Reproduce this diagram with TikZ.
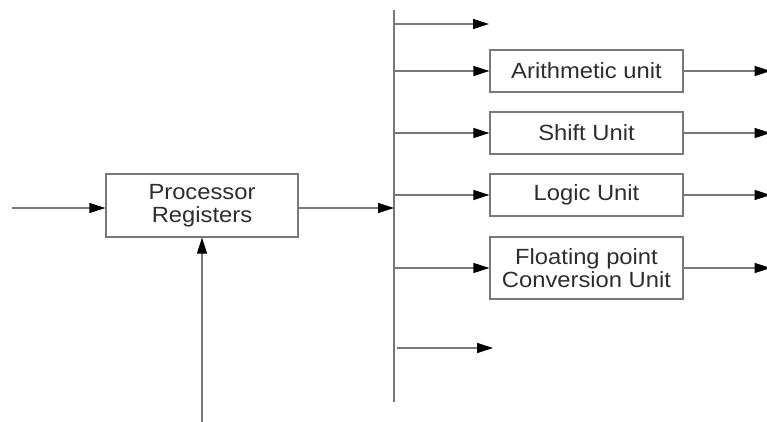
\documentclass[tikz,border=0pt]{standalone}
\usepackage{fontspec}
\setmainfont{Liberation Sans}
\newfontfamily\unitfont[FakeStretch=1.08]{Liberation Sans}
\usetikzlibrary{arrows.meta}
\definecolor{linegray}{RGB}{120,120,120}
\definecolor{textgray}{RGB}{45,45,45}
\tikzset{
	unit/.style={draw=linegray, line width=1.2pt, minimum width=193pt, minimum height=42pt, inner sep=0pt, align=center, text=textgray, font=\unitfont\fontsize{22}{23.5}\selectfont},
	bus/.style={draw=linegray, line width=1.2pt},
	flow/.style={draw=linegray, line width=1.2pt, -{Triangle[length=16pt,width=10pt,color=black]}}
}
\begin{document}
\begin{tikzpicture}[x=1pt,y=-1pt]
		\useasboundingbox (0,0) rectangle (767,422);
		\node[unit, minimum width=192pt, minimum height=63pt] (reg) at (202,205.5) {Processor\\Registers};
		\node[unit] (arith) at (586.5,71) {Arithmetic unit};
		\node[unit] (shift) at (586.5,133) {Shift Unit};
		\node[unit] (logic) at (586.5,195) {Logic Unit};
		\node[unit, minimum height=62pt] (float) at (586.5,268) {Floating point\\Conversion Unit};
		\coordinate (in) at (12,208);
		\coordinate (ctrl) at (202,422);
		\coordinate (bustop) at (394,10);
		\coordinate (busbot) at (394,402);
		\coordinate (spare1) at (489,24);
		\coordinate (spare2a) at (397,348);
		\coordinate (spare2) at (493,348);
		\draw[bus] (bustop) -- (busbot);
		\draw[flow] (in) -- (in -| reg.west);
		\draw[flow] (ctrl) -- (reg.south);
		\draw[flow] (in -| reg.east) -- (in -| bustop);
		\draw[flow] (bustop |- spare1) -- (spare1);
		\draw[flow] (bustop |- arith.west) -- (arith.west);
		\draw[flow] (bustop |- shift.west) -- (shift.west);
		\draw[flow] (bustop |- logic.west) -- (logic.west);
		\draw[flow] (bustop |- float.west) -- (float.west);
		\draw[flow] (spare2a) -- (spare2);
		\draw[flow] (arith.east) -- ++(87,0);
		\draw[flow] (shift.east) -- ++(87,0);
		\draw[flow] (logic.east) -- ++(87,0);
		\draw[flow] (float.east) -- ++(87,0);
	\end{tikzpicture}
\end{document}
